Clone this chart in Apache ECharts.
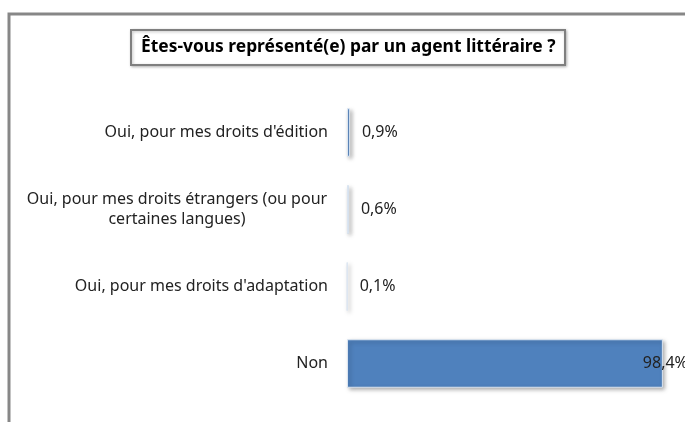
<!DOCTYPE html>
<html>
<head>
<meta charset="utf-8">
<script src="https://cdn.jsdelivr.net/npm/echarts@6/dist/echarts.min.js"></script>
<style>
  html, body { margin: 0; padding: 0; background: #fff; }
  #chart { width: 685px; height: 422px; }
</style>
</head>
<body>
<div id="chart"></div>
<script>
var categories = [
  "Oui, pour mes droits d'édition",
  'Oui, pour mes droits étrangers (ou pour\ncertaines langues)',
  "Oui, pour mes droits d'adaptation",
  'Non'
]
var values = [0.9, 0.6, 0.1, 98.4]

var font = 'Noto Sans'

function pct(v) {
  return v.toFixed(1).replace('.', ',') + '%'
}

var myChart = echarts.init(document.getElementById('chart'))

var option = {
  animation: false,
  title: {
    text: 'Êtes-vous représenté(e) par un agent littéraire ?',
    left: 131,
    top: 30,
    padding: [9, 10],
    borderColor: '#7f7f7f',
    borderWidth: 2,
    shadowColor: 'rgba(0,0,0,0.25)',
    shadowBlur: 3,
    shadowOffsetX: 1,
    shadowOffsetY: 1,
    backgroundColor: '#fff',
    textStyle: {
      fontFamily: font,
      fontSize: 17.4,
      fontWeight: 'bold',
      color: '#000'
    }
  },
  graphic: [
    {
      type: 'rect',
      shape: { x: 9, y: 14, width: 720, height: 460 },
      style: { fill: 'none', stroke: '#878787', lineWidth: 3 },
      silent: true
    }
  ],
  grid: {
    left: 347,
    right: 17,
    top: 94,
    bottom: 20
  },
  xAxis: {
    type: 'value',
    min: 0,
    max: 100,
    show: false
  },
  yAxis: {
    type: 'category',
    inverse: true,
    data: categories,
    axisLine: { show: false },
    axisTick: { show: false },
    axisLabel: {
      margin: 19,
      fontFamily: font,
      fontSize: 16,
      color: '#222',
      lineHeight: 20,
      formatter: function (v) {
        if (v.indexOf('\n') < 0) return v
        return v.split('\n').map(function (s) { return '{c|' + s + '}' }).join('\n')
      },
      rich: {
        c: { width: 302, align: 'center', fontFamily: font, fontSize: 16, color: '#222', lineHeight: 20 }
      }
    }
  },
  series: [
    {
      type: 'bar',
      barCategoryGap: '37%',
      data: values.map(function (v) {
        return {
          value: v,
          label: v > 50
            ? { position: 'right', distance: 5, offset: [-25, 0] }
            : { position: 'right', distance: 12 }
        }
      }),
      itemStyle: {
        color: '#4f81bd',
        borderColor: '#dbe5f1',
        borderWidth: 1,
        shadowColor: 'rgba(0,0,0,0.35)',
        shadowBlur: 4,
        shadowOffsetX: 2,
        shadowOffsetY: 2
      },
      label: {
        show: true,
        fontFamily: font,
        fontSize: 16,
        color: '#222',
        formatter: function (p) { return pct(p.value) }
      }
    }
  ]
}

myChart.setOption(option)
</script>
</body>
</html>
